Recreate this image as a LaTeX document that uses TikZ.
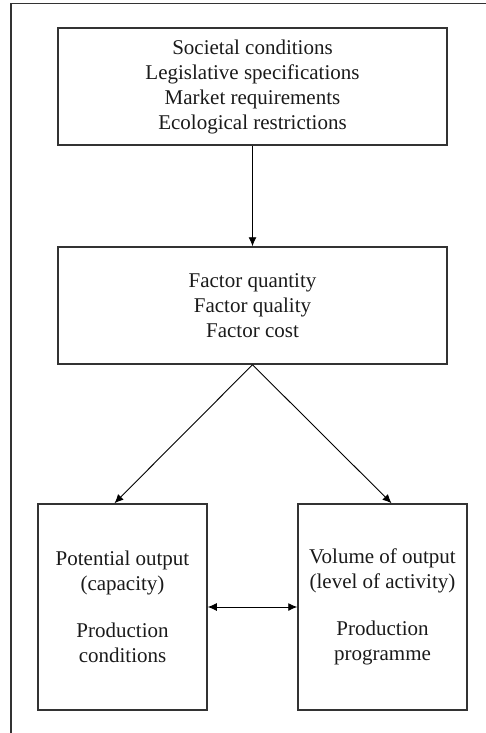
\documentclass[tikz,border=0pt]{standalone}
\usepackage{fontspec}
\setmainfont{Liberation Serif}
\usetikzlibrary{arrows.meta}
\definecolor{edge}{HTML}{333333}
\definecolor{ink}{HTML}{1A1A1A}
\begin{document}
\begin{tikzpicture}[x=1pt,y=-1pt,
  box/.style={draw=edge, line width=1.5pt, inner sep=0pt, align=center,
    text=ink, font=\fontsize{21}{25}\selectfont},
  wide/.style={box, minimum width=389pt, minimum height=117pt},
  tall/.style={box, minimum width=169pt, minimum height=206pt},
  tip/.style={Latex[length=9pt,width=8pt]},
  arr/.style={draw=black, line width=0.9pt, -{Latex[length=9pt,width=8pt]}},
  dbl/.style={draw=black, line width=0.9pt, {Latex[length=9pt,width=8pt]}-{Latex[length=9pt,width=8pt]}}]
  \useasboundingbox (0,0) rectangle (486,733);

  % outer frame (left and top rule)
  \draw[edge, line width=1.3pt] (11,733) -- (11,3.5) -- (486,3.5);

  \node[wide] (env) at (252.5,86.5)
    {Societal conditions\\Legislative specifications\\Market requirements\\Ecological restrictions};
  \node[wide] (fac) at (252.5,305.5)
    {Factor quantity\\Factor quality\\Factor cost};
  \node[tall] (pot) at (122.5,607)
    {Potential output\\(capacity)\\[22pt]Production\\conditions};
  \node[tall] (vol) at (382.5,607)
    {Volume of output\\(level of activity)\\[22pt]Production\\programme};

  \draw[arr] (env.south) -- (fac.north);
  \draw[arr] (fac.south) -- ([xshift=-8pt]pot.north);
  \draw[arr] (fac.south) -- ([xshift=9pt]vol.north);
  \draw[dbl] (pot.east) -- (vol.west);
\end{tikzpicture}
\end{document}
